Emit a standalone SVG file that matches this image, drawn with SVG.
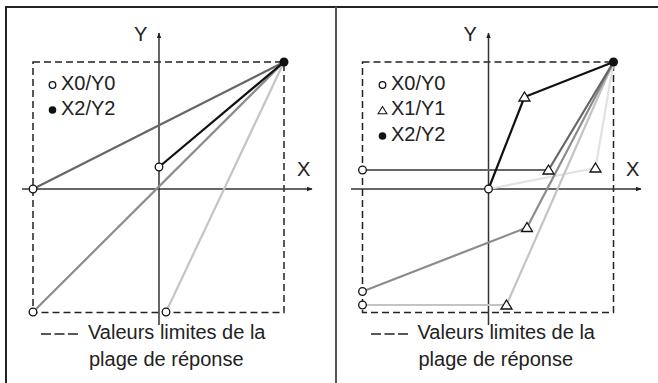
<svg xmlns="http://www.w3.org/2000/svg" width="658" height="383" viewBox="0 0 658 383">
<defs>
<style>
.t{font-family:"Liberation Sans",Arial,sans-serif;font-size:20px;fill:#222}
.ax{stroke:#333;stroke-width:1.5;fill:none}
.dash{stroke:#222;stroke-width:1.5;fill:none;stroke-dasharray:7,4}
.key{stroke:#222;stroke-width:1.5;fill:none;stroke-dasharray:10,3.5}
.ln{fill:none;stroke-width:2.2;stroke-linejoin:round}
.oc{fill:#fff;stroke:#111;stroke-width:1.3}
.tri{fill:#fff;stroke:#111;stroke-width:1.3}
.dot{fill:#111}
</style>
<marker id="ar" viewBox="0 0 10 8" refX="9" refY="4" markerWidth="6" markerHeight="5" orient="auto" markerUnits="userSpaceOnUse">
<path d="M0,0 L10,4 L0,8 Z" fill="#222"/>
</marker>
<polygon id="tr" points="0,-5 5.5,4 -5.5,4"/>
</defs>
<g id="frame">
<line x1="5" y1="7" x2="658" y2="7" stroke="#222" stroke-width="2"/>
<line x1="6" y1="6" x2="6" y2="383" stroke="#222" stroke-width="2"/>
<line x1="336" y1="7" x2="336" y2="383" stroke="#555" stroke-width="2"/>
</g>
<g id="left-panel">
<rect class="dash" x="33" y="62" width="251" height="250.5"/>
<g id="left-axes">
<line class="ax" x1="159" y1="325" x2="159" y2="33" marker-end="url(#ar)"/>
<line class="ax" x1="22" y1="189" x2="312" y2="189" marker-end="url(#ar)"/>
<text class="t" x="134" y="41">Y</text>
<text class="t" x="297" y="176">X</text>
</g>
<g id="left-connectors">
<line class="ln" x1="33" y1="189" x2="284" y2="62" stroke="#666"/>
<line class="ln" x1="33" y1="312" x2="284" y2="62" stroke="#8c8c8c"/>
<line class="ln" x1="166" y1="312" x2="284" y2="62" stroke="#c4c4c4"/>
<line class="ln" x1="159" y1="167" x2="284" y2="62" stroke="#111"/>
</g>
<g id="left-points">
<circle class="oc" cx="33" cy="189" r="3.8"/>
<circle class="oc" cx="33" cy="312" r="3.8"/>
<circle class="oc" cx="166" cy="312" r="3.8"/>
<circle class="oc" cx="159" cy="167" r="3.8"/>
<circle class="dot" cx="284" cy="62" r="4.5"/>
</g>
<g id="left-legend">
<circle class="oc" cx="52.5" cy="85" r="3.3"/>
<text class="t" x="61" y="89.5">X0/Y0</text>
<circle class="dot" cx="52.5" cy="110" r="3.8"/>
<text class="t" x="61" y="115">X2/Y2</text>
</g>
<g id="left-caption">
<line class="key" x1="41" y1="334" x2="78" y2="334"/>
<text class="t" x="88" y="339">Valeurs limites de la</text>
<text class="t" x="89" y="366">plage de réponse</text>
</g>
</g>
<g id="right-panel">
<rect class="dash" x="362.5" y="62" width="251" height="250.5"/>
<g id="right-axes">
<line class="ax" x1="488.5" y1="325" x2="488.5" y2="33" marker-end="url(#ar)"/>
<line class="ax" x1="351" y1="189" x2="641" y2="189" marker-end="url(#ar)"/>
<text class="t" x="463.5" y="41">Y</text>
<text class="t" x="626" y="176">X</text>
</g>
<g id="right-connectors">
<polyline class="ln" points="488.5,189 595.5,168 613.5,62" stroke="#e2e2e2"/>
<polyline class="ln" points="362.5,305 506.5,305 613.5,62" stroke="#c4c4c4"/>
<polyline class="ln" points="362.5,291.5 527,227.5 613.5,62" stroke="#8c8c8c"/>
<polyline class="ln" points="362.5,170 548.5,170 613.5,62" stroke="#666"/>
<polyline class="ln" points="488.5,189 524.5,97 613.5,62" stroke="#111"/>
</g>
<g id="right-points">
<circle class="oc" cx="362.5" cy="170" r="3.8"/>
<circle class="oc" cx="362.5" cy="291.5" r="3.8"/>
<circle class="oc" cx="362.5" cy="305" r="3.8"/>
<circle class="oc" cx="488.5" cy="189" r="3.8"/>
<use href="#tr" class="tri" x="524.5" y="97"/>
<use href="#tr" class="tri" x="548.5" y="170"/>
<use href="#tr" class="tri" x="595.5" y="168"/>
<use href="#tr" class="tri" x="527" y="227.5"/>
<use href="#tr" class="tri" x="506.5" y="305"/>
<circle class="dot" cx="613.5" cy="62" r="4.5"/>
</g>
<g id="right-legend">
<circle class="oc" cx="382.5" cy="85" r="3.3"/>
<text class="t" x="391" y="89.5">X0/Y0</text>
<use href="#tr" class="tri" x="382.5" y="110.5" transform="translate(382.5 110.5) scale(0.8) translate(-382.5 -110.5)"/>
<text class="t" x="391" y="115">X1/Y1</text>
<circle class="dot" cx="382.5" cy="136" r="3.8"/>
<text class="t" x="391" y="141">X2/Y2</text>
</g>
<g id="right-caption">
<line class="key" x1="371" y1="334" x2="408" y2="334"/>
<text class="t" x="417.5" y="339">Valeurs limites de la</text>
<text class="t" x="418.5" y="366">plage de réponse</text>
</g>
</g>
</svg>
